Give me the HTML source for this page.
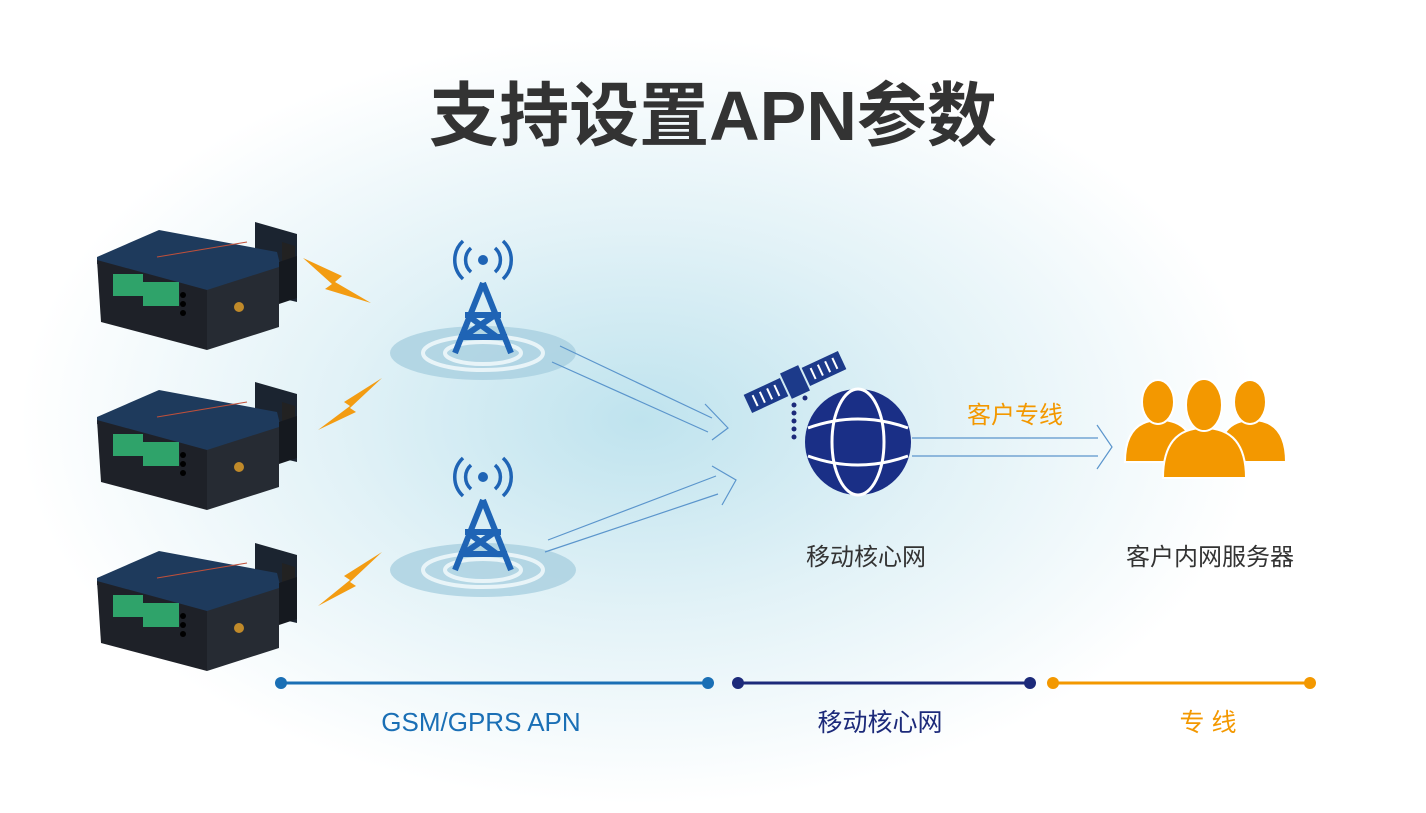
<!DOCTYPE html>
<html><head><meta charset="utf-8"><style>
html,body{margin:0;padding:0;width:1426px;height:813px;overflow:hidden;background:#fff}
svg{display:block}
text{font-family:"Liberation Sans","Noto Sans CJK SC",sans-serif}
</style></head><body>
<svg width="1426" height="813" viewBox="0 0 1426 813" xmlns="http://www.w3.org/2000/svg">
<defs>
<radialGradient id="bg" cx="640" cy="420" r="620" gradientUnits="userSpaceOnUse" gradientTransform="translate(640 420) scale(1 0.62) translate(-640 -420)">
<stop offset="0" stop-color="#bfe3ee"/><stop offset="0.5" stop-color="#e2f2f7"/><stop offset="1" stop-color="#ffffff"/>
</radialGradient>
<g id="dev">
<polygon points="158,0 200,12 200,80 158,70" fill="#1b2430"/>
<polygon points="185,20 198,24 198,74 185,70" fill="#222"/>
<polygon points="0,35 62,8 180,30 185,50 110,70 0,42" fill="#1e3a5c"/>
<polygon points="0,38 110,68 110,128 4,100" fill="#1e2128"/>
<polygon points="110,68 182,45 182,105 110,128" fill="#262b33"/>
<polygon points="182,40 200,34 200,76 182,82" fill="#15191f"/>
<rect x="16" y="52" width="30" height="22" fill="#2fa36a"/>
<rect x="46" y="60" width="36" height="24" fill="#2fa36a"/>
<circle cx="86" cy="73" r="3" fill="#000"/><circle cx="86" cy="82" r="3" fill="#000"/><circle cx="86" cy="91" r="3" fill="#000"/>
<circle cx="142" cy="85" r="5" fill="#c08a2a"/>
<line x1="60" y1="35" x2="150" y2="20" stroke="#c0503a" stroke-width="1"/>
</g>
<g id="tower" fill="#1f64b5">
<ellipse cx="0" cy="108" rx="93" ry="27" fill="#a9cfe0" opacity="0.8"/>
<ellipse cx="0" cy="108" rx="60" ry="17" fill="none" stroke="#e8f4f8" stroke-width="4"/>
<ellipse cx="0" cy="108" rx="38" ry="11" fill="none" stroke="#e8f4f8" stroke-width="4"/>
<circle cx="0" cy="15" r="5"/>
<path d="M-12,3 A16,16 0 0 0 -12,27 M12,3 A16,16 0 0 1 12,27 M-20,-4 A26,26 0 0 0 -20,34 M20,-4 A26,26 0 0 1 20,34" fill="none" stroke="#1f64b5" stroke-width="3.5"/>
<path d="M0,38 L-28,108 M0,38 L28,108 M-18,70 L18,70 M-24,92 L24,92 M-16,70 L14,92 M12,70 L-20,92" stroke="#1f64b5" stroke-width="6" fill="none"/>
</g>
</defs>
<rect width="1426" height="813" fill="url(#bg)"/>
<text x="713" y="140" text-anchor="middle" font-size="70" font-weight="bold" fill="#333">支持设置APN参数</text>

<use href="#dev" x="97" y="222"/>
<use href="#dev" x="97" y="382"/>
<use href="#dev" x="97" y="543"/>
<path d="M303,258 L342,276 L335,282 L371,303 L325,289 L332,284 Z" fill="#f39c12"/>
<path d="M382,378 L344,402 L350,406 L318,430 L356,412 L350,408 Z" fill="#f39c12"/>
<path d="M382,552 L344,576 L350,580 L318,606 L356,586 L350,582 Z" fill="#f39c12"/>

<use href="#tower" x="483" y="245"/>
<use href="#tower" x="483" y="462"/>

<g fill="none" stroke="#5b95cc" stroke-width="1.2">
<path d="M560,346 L712,418 M552,362 L708,432 M705,404 L728,428 L712,440"/>
<path d="M545,552 L718,494 M548,540 L716,476 M712,466 L736,480 L722,505"/>
<path d="M912,438 L1098,438 M912,456 L1098,456 M1097,425 L1112,447 L1097,469"/>
</g>

<g transform="translate(795,382) rotate(-25)">
<rect x="-52" y="-10" width="40" height="20" fill="#1c3a8a"/>
<rect x="12" y="-10" width="40" height="20" fill="#1c3a8a"/>
<g stroke="#fff" stroke-width="2"><line x1="-44" y1="-6" x2="-44" y2="6"/><line x1="-36" y1="-6" x2="-36" y2="6"/><line x1="-28" y1="-6" x2="-28" y2="6"/><line x1="-20" y1="-6" x2="-20" y2="6"/><line x1="20" y1="-6" x2="20" y2="6"/><line x1="28" y1="-6" x2="28" y2="6"/><line x1="36" y1="-6" x2="36" y2="6"/><line x1="44" y1="-6" x2="44" y2="6"/></g>
<rect x="-10" y="-14" width="20" height="28" fill="#1c3a8a"/>
</g>
<g fill="#1c2a7a"><circle cx="794" cy="405" r="2.5"/><circle cx="794" cy="413" r="2.5"/><circle cx="794" cy="421" r="2.5"/><circle cx="794" cy="429" r="2.5"/><circle cx="794" cy="437" r="2.5"/><circle cx="805" cy="398" r="2.5"/></g>
<g>
<circle cx="858" cy="442" r="53" fill="#1a2f86"/>
<g fill="none" stroke="#fff" stroke-width="3">
<ellipse cx="858" cy="442" rx="26" ry="53"/>
<path d="M808,428 Q858,410 908,428 M808,456 Q858,474 908,456"/>
</g>
</g>
<text x="1015" y="423" text-anchor="middle" font-size="24" fill="#f39800">客户专线</text>

<g fill="#f39800" stroke="#fff" stroke-width="2">
<path d="M1125,462 Q1125,420 1160,420 Q1195,420 1195,462 Z"/>
<ellipse cx="1158" cy="402" rx="16" ry="22"/>
<path d="M1218,462 Q1218,420 1252,420 Q1286,420 1286,462 Z"/>
<ellipse cx="1250" cy="402" rx="16" ry="22"/>
<path d="M1163,478 Q1163,428 1204,428 Q1246,428 1246,478 Z"/>
<ellipse cx="1204" cy="405" rx="18" ry="26"/>
</g>

<text x="866" y="565" text-anchor="middle" font-size="24" fill="#333">移动核心网</text>
<text x="1210" y="565" text-anchor="middle" font-size="24" fill="#333">客户内网服务器</text>

<g stroke-width="3">
<line x1="281" y1="683" x2="708" y2="683" stroke="#1a6fb5"/>
<line x1="738" y1="683" x2="1030" y2="683" stroke="#1c2a7a"/>
<line x1="1053" y1="683" x2="1310" y2="683" stroke="#f39800"/>
</g>
<circle cx="281" cy="683" r="6" fill="#1a6fb5"/><circle cx="708" cy="683" r="6" fill="#1a6fb5"/>
<circle cx="738" cy="683" r="6" fill="#1c2a7a"/><circle cx="1030" cy="683" r="6" fill="#1c2a7a"/>
<circle cx="1053" cy="683" r="6" fill="#f39800"/><circle cx="1310" cy="683" r="6" fill="#f39800"/>
<text x="481" y="731" text-anchor="middle" font-size="26" fill="#1a6fb5">GSM/GPRS APN</text>
<text x="880" y="731" text-anchor="middle" font-size="25" fill="#1c2a7a">移动核心网</text>
<text x="1208" y="731" text-anchor="middle" font-size="25" fill="#f39800">专 线</text>
</svg>
</body></html>
